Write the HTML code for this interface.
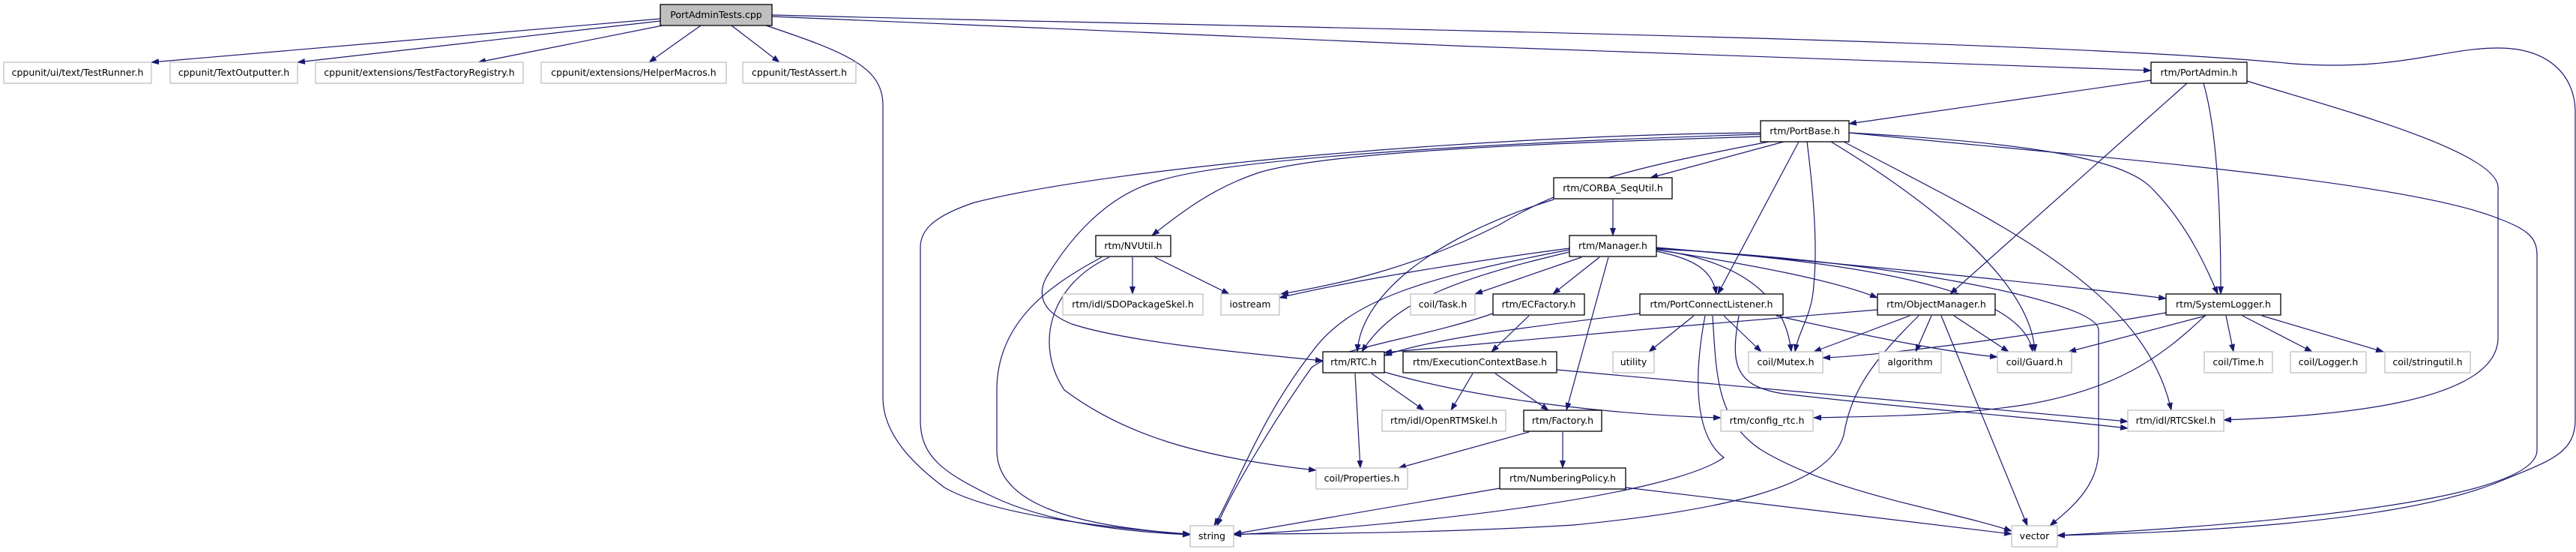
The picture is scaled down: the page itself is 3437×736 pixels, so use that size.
<!DOCTYPE html>
<html><head><meta charset="utf-8"><style>
html,body{margin:0;padding:0;background:#fff;}
svg{display:block;}
text{font-family:"DejaVu Sans","Liberation Sans",sans-serif;font-size:12.5px;fill:#000;}
.e{fill:none;stroke:#191970;stroke-width:1.2;marker-end:url(#a);}
.b{fill:#fff;stroke:#000;stroke-width:1.3;}
.g{fill:#fff;stroke:#bfbfbf;stroke-width:1.3;}
</style></head><body>
<svg width="3437" height="736" viewBox="0 0 3437 736" xmlns="http://www.w3.org/2000/svg">
<defs><marker id="a" markerUnits="userSpaceOnUse" markerWidth="11" markerHeight="8" refX="10" refY="4" orient="auto"><path d="M0,0 L11,4 L0,8 z" fill="#191970"/></marker></defs>

<!-- edges from root -->
<path class="e" d="M881,25 L202,83"/>
<path class="e" d="M881,28 L397,83"/>
<path class="e" d="M884,34 L638,83"/>
<path class="e" d="M935,34 L866,83"/>
<path class="e" d="M976,34 L1040,83"/>
<path class="e" d="M1022,34 C1130,70 1178,90 1178,140 L1178,530 C1178,580 1220,620 1260,650 C1330,690 1500,705 1588,713"/>
<path class="e" d="M1030,22 C1500,45 2400,80 2870,94"/>
<path class="e" d="M1030,20 C1600,35 2700,50 3060,85 C3200,95 3260,64 3333,64 C3400,64 3436,100 3436,150 L3436,560 C3436,605 3400,615 3340,640 C3200,700 2900,710 2745,714"/>
<!-- PortAdmin -->
<path class="e" d="M2870,107 L2467,165"/>
<path class="e" d="M2918,111 L2602,392"/>
<path class="e" d="M2940,111 C2960,180 2963,300 2963,392"/>
<path class="e" d="M2998,108 C3100,140 3333,200 3333,250 L3333,450 C3333,540 3100,555 2967,560"/>
<!-- PortBase -->
<path class="e" d="M2349,177 C2000,180 1500,220 1300,270 C1240,290 1228,310 1228,330 L1228,560 C1228,610 1260,630 1320,660 C1400,700 1520,710 1588,713"/>
<path class="e" d="M2349,179 C2000,190 1650,210 1550,240 C1470,260 1420,330 1396,370 C1380,400 1400,420 1430,432 C1500,455 1650,470 1765,481"/>
<path class="e" d="M2349,182 C2100,190 1780,200 1680,230 C1620,250 1580,280 1537,314"/>
<path class="e" d="M2360,189 C2200,220 2100,240 2000,300 C1880,360 1780,380 1709,392"/>
<path class="e" d="M2380,189 L2202,237"/>
<path class="e" d="M2400,189 L2292,392"/>
<path class="e" d="M2411,189 C2420,260 2425,330 2420,380 C2418,420 2400,440 2395,469"/>
<path class="e" d="M2443,189 C2560,260 2710,370 2715,469"/>
<path class="e" d="M2460,189 C2650,290 2860,380 2897,547"/>
<path class="e" d="M2467,177 C2700,190 2830,210 2870,250 C2920,300 2945,360 2959,392"/>
<path class="e" d="M2467,177 C2800,210 3200,240 3330,290 C3370,305 3385,315 3385,340 L3385,600 C3385,670 3000,700 2745,714"/>
<!-- CORBA -->
<path class="e" d="M2152,266 L2152,314"/>
<path class="e" d="M2073,266 C1900,320 1815,400 1811,469"/>
<!-- NVUtil -->
<path class="e" d="M1511,343 L1511,392"/>
<path class="e" d="M1541,343 L1640,392"/>
<path class="e" d="M1470,343 C1400,380 1330,430 1330,520 L1330,600 C1330,660 1400,700 1588,712"/>
<path class="e" d="M1480,343 C1400,380 1380,460 1420,520 C1500,580 1600,610 1756,627"/>
<!-- Manager -->
<path class="e" d="M2094,331 C1950,350 1800,375 1707,397"/>
<path class="e" d="M2094,333 C1900,370 1800,400 1750,470 C1680,560 1650,650 1620,701"/>
<path class="e" d="M2094,336 C1950,370 1860,400 1817,469"/>
<path class="e" d="M2110,343 L1968,392"/>
<path class="e" d="M2134,343 L2072,392"/>
<path class="e" d="M2146,343 L2090,547"/>
<path class="e" d="M2210,335 C2260,345 2285,360 2290,392"/>
<path class="e" d="M2210,333 C2350,355 2450,375 2505,397"/>
<path class="e" d="M2210,333 C2300,345 2380,380 2390,469"/>
<path class="e" d="M2210,331 C2500,350 2700,390 2712,469"/>
<path class="e" d="M2210,330 C2500,355 2750,380 2890,398"/>
<path class="e" d="M2210,332 C2500,345 2800,400 2800,440 L2800,600 C2800,650 2760,680 2735,701"/>
<!-- ECFactory -->
<path class="e" d="M2040,421 L1990,469"/>
<path class="e" d="M1992,418 C1900,450 1780,465 1750,490 C1700,560 1640,660 1624,701"/>
<!-- PortConnectListener -->
<path class="e" d="M2188,418 C2000,440 1900,455 1847,474"/>
<path class="e" d="M2260,421 L2200,469"/>
<path class="e" d="M2300,421 L2350,469"/>
<path class="e" d="M2370,421 C2500,450 2600,470 2665,476"/>
<path class="e" d="M2320,421 C2310,480 2310,515 2380,525 C2550,545 2700,555 2839,571"/>
<path class="e" d="M2275,421 C2260,500 2260,580 2300,610 C2230,660 1900,700 1646,713"/>
<path class="e" d="M2285,421 C2290,500 2290,560 2350,600 C2450,660 2600,680 2684,708"/>
<!-- ECB -->
<path class="e" d="M1965,498 L1936,547"/>
<path class="e" d="M1995,498 L2066,547"/>
<path class="e" d="M2077,493 C2400,520 2700,550 2839,562"/>
<!-- ObjectManager -->
<path class="e" d="M2505,413 C2300,430 2000,455 1847,470"/>
<path class="e" d="M2548,421 L2420,469"/>
<path class="e" d="M2577,421 L2556,469"/>
<path class="e" d="M2607,421 L2680,469"/>
<path class="e" d="M2590,421 L2705,701"/>
<path class="e" d="M2560,421 C2500,480 2470,520 2460,580 C2440,650 2300,680 2100,700 C1900,712 1700,712 1646,712"/>
<!-- SystemLogger -->
<path class="e" d="M2890,417 C2700,450 2500,475 2432,477"/>
<path class="e" d="M2943,421 L2760,469"/>
<path class="e" d="M2942,421 C2880,480 2820,520 2700,540 C2600,555 2500,555 2420,557"/>
<path class="e" d="M2970,421 L2980,469"/>
<path class="e" d="M2992,421 L3085,469"/>
<path class="e" d="M3018,421 L3180,469"/>
<!-- RTC -->
<path class="e" d="M1830,498 L1900,547"/>
<path class="e" d="M1808,498 L1815,624"/>
<path class="e" d="M1847,496 C2000,540 2200,555 2296,557"/>
<!-- Factory -->
<path class="e" d="M2040,576 L1866,624"/>
<path class="e" d="M2085,576 L2085,624"/>
<!-- NumberingPolicy -->
<path class="e" d="M2001,651 L1646,712"/>
<path class="e" d="M2169,650 L2684,712"/>

<!-- nodes -->
<g>
<rect x="881" y="6" width="149" height="28" fill="#bfbfbf" stroke="#000" stroke-width="1.3"/><text x="955.5" y="24" text-anchor="middle">PortAdminTests.cpp</text>

<rect class="g" x="5" y="83" width="197" height="28"/><text x="103.5" y="101" text-anchor="middle">cppunit/ui/text/TestRunner.h</text>
<rect class="g" x="227" y="83" width="170" height="28"/><text x="312" y="101" text-anchor="middle">cppunit/TextOutputter.h</text>
<rect class="g" x="421" y="83" width="277" height="28"/><text x="559.5" y="101" text-anchor="middle">cppunit/extensions/TestFactoryRegistry.h</text>
<rect class="g" x="722" y="83" width="247" height="28"/><text x="845.5" y="101" text-anchor="middle">cppunit/extensions/HelperMacros.h</text>
<rect class="g" x="991" y="83" width="151" height="28"/><text x="1066.5" y="101" text-anchor="middle">cppunit/TestAssert.h</text>
<rect class="b" x="2870" y="83" width="128" height="28"/><text x="2934" y="101" text-anchor="middle">rtm/PortAdmin.h</text>

<rect class="b" x="2349" y="161" width="118" height="28"/><text x="2408" y="179" text-anchor="middle">rtm/PortBase.h</text>
<rect class="b" x="2073" y="237" width="158" height="28"/><text x="2152" y="255" text-anchor="middle">rtm/CORBA_SeqUtil.h</text>
<rect class="b" x="1462" y="314" width="100" height="28"/><text x="1512" y="332" text-anchor="middle">rtm/NVUtil.h</text>
<rect class="b" x="2094" y="314" width="116" height="28"/><text x="2152" y="332" text-anchor="middle">rtm/Manager.h</text>

<rect class="g" x="1418" y="392" width="187" height="28"/><text x="1511.5" y="410" text-anchor="middle">rtm/idl/SDOPackageSkel.h</text>
<rect class="g" x="1629" y="392" width="78" height="28"/><text x="1668" y="410" text-anchor="middle">iostream</text>
<rect class="g" x="1882" y="392" width="86" height="28"/><text x="1925" y="410" text-anchor="middle">coil/Task.h</text>
<rect class="b" x="1992" y="392" width="122" height="28"/><text x="2053" y="410" text-anchor="middle">rtm/ECFactory.h</text>
<rect class="b" x="2188" y="392" width="191" height="28"/><text x="2283.5" y="410" text-anchor="middle">rtm/PortConnectListener.h</text>
<rect class="b" x="2505" y="392" width="157" height="28"/><text x="2583.5" y="410" text-anchor="middle">rtm/ObjectManager.h</text>
<rect class="b" x="2890" y="392" width="153" height="28"/><text x="2966.5" y="410" text-anchor="middle">rtm/SystemLogger.h</text>

<rect class="b" x="1765" y="469" width="82" height="28"/><text x="1806" y="487" text-anchor="middle">rtm/RTC.h</text>
<rect class="b" x="1872" y="469" width="205" height="28"/><text x="1974.5" y="487" text-anchor="middle">rtm/ExecutionContextBase.h</text>
<rect class="g" x="2152" y="469" width="55" height="28"/><text x="2179.5" y="487" text-anchor="middle">utility</text>
<rect class="g" x="2333" y="469" width="99" height="28"/><text x="2382.5" y="487" text-anchor="middle">coil/Mutex.h</text>
<rect class="g" x="2507" y="469" width="83" height="28"/><text x="2548.5" y="487" text-anchor="middle">algorithm</text>
<rect class="g" x="2665" y="469" width="99" height="28"/><text x="2714.5" y="487" text-anchor="middle">coil/Guard.h</text>
<rect class="g" x="2941" y="469" width="91" height="28"/><text x="2986.5" y="487" text-anchor="middle">coil/Time.h</text>
<rect class="g" x="3056" y="469" width="101" height="28"/><text x="3106.5" y="487" text-anchor="middle">coil/Logger.h</text>
<rect class="g" x="3182" y="469" width="114" height="28"/><text x="3239" y="487" text-anchor="middle">coil/stringutil.h</text>

<rect class="g" x="1844" y="547" width="165" height="28"/><text x="1926.5" y="565" text-anchor="middle">rtm/idl/OpenRTMSkel.h</text>
<rect class="b" x="2033" y="547" width="104" height="28"/><text x="2085" y="565" text-anchor="middle">rtm/Factory.h</text>
<rect class="g" x="2296" y="547" width="123" height="28"/><text x="2357.5" y="565" text-anchor="middle">rtm/config_rtc.h</text>
<rect class="g" x="2839" y="547" width="128" height="28"/><text x="2903" y="565" text-anchor="middle">rtm/idl/RTCSkel.h</text>

<rect class="g" x="1756" y="624" width="122" height="28"/><text x="1817" y="642" text-anchor="middle">coil/Properties.h</text>
<rect class="b" x="2001" y="624" width="168" height="28"/><text x="2085" y="642" text-anchor="middle">rtm/NumberingPolicy.h</text>

<rect class="g" x="1588" y="701" width="58" height="28"/><text x="1617" y="719" text-anchor="middle">string</text>
<rect class="g" x="2684" y="701" width="61" height="28"/><text x="2714.5" y="719" text-anchor="middle">vector</text>
</g>
</svg>
</body></html>
